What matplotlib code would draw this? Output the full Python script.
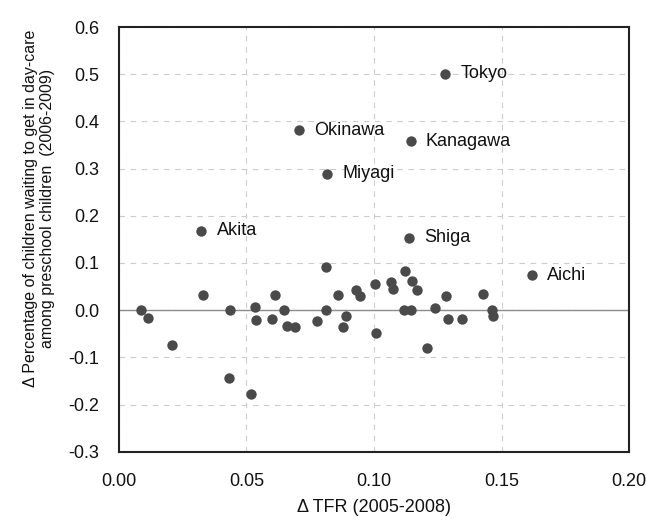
import matplotlib
matplotlib.use("Agg")
import matplotlib.pyplot as plt

plt.rcParams['font.family'] = ['Liberation Sans', 'DejaVu Sans']

# Labelled prefectures
names = ["Tokyo", "Okinawa", "Kanagawa", "Miyagi", "Akita", "Shiga", "Aichi"]
name_tfr = [0.128, 0.0704, 0.1143, 0.0816, 0.0323, 0.1137, 0.1619]
name_wait = [0.501, 0.381, 0.358, 0.289, 0.168, 0.153, 0.074]

# Other prefectures
tfr = [0.0087, 0.0113, 0.0207, 0.0329, 0.0437, 0.0431, 0.0516, 0.0534, 0.0539,
       0.0599, 0.0613, 0.0649, 0.0660, 0.0691, 0.0775, 0.0811, 0.0811, 0.0858,
       0.0878, 0.0889, 0.0931, 0.0944, 0.1005, 0.1007, 0.1065, 0.1076, 0.1120,
       0.1116, 0.1144, 0.1150, 0.1168, 0.1209, 0.1240, 0.1283, 0.1288, 0.1343,
       0.1427, 0.1462, 0.1467]
wait = [0.000, -0.016, -0.074, 0.032, 0.000, -0.144, -0.178, 0.007, -0.020,
        -0.018, 0.032, 0.000, -0.033, -0.036, -0.023, 0.091, 0.000, 0.032,
        -0.036, -0.012, 0.042, 0.029, 0.055, -0.049, 0.059, 0.045, 0.083,
        0.001, 0.001, 0.062, 0.042, -0.081, 0.004, 0.029, -0.018, -0.018,
        0.035, 0.001, -0.012]

xticks = [0.00, 0.05, 0.10, 0.15, 0.20]
yticks = [-0.3, -0.2, -0.1, 0.0, 0.1, 0.2, 0.3, 0.4, 0.5, 0.6]

fig = plt.figure(figsize=(6.46, 5.21), dpi=100)
ax = fig.add_axes([0.184, 0.133, 0.790, 0.815])

pt_color = '#4a4a4a'
ax.axhline(0, color='#8c8c8c', lw=1.0, zorder=1)
ax.scatter(tfr, wait, s=56, color=pt_color, zorder=3, linewidths=0)
ax.scatter(name_tfr, name_wait, s=56, color=pt_color, zorder=3, linewidths=0)
for n, x, y in zip(names, name_tfr, name_wait):
    ax.annotate(n, (x, y), xytext=(11, 0), textcoords='offset points',
                va='center', ha='left', fontsize=13, color='#111111')

ax.set_xlim(0, 0.20)
ax.set_ylim(-0.3, 0.6)
ax.set_xticks(xticks)
ax.set_yticks(yticks)
ax.set_xticklabels([f"{v:.2f}" for v in xticks])
ax.set_yticklabels([f"{v:.1f}" for v in yticks])
ax.tick_params(length=0, labelsize=13, colors='#111111')
ax.tick_params(axis='y', pad=14)
ax.tick_params(axis='x', pad=15)
ax.grid(True, color='#cccccc', lw=0.8, linestyle=(0, (5, 5)))
ax.set_axisbelow(True)
for sp in ax.spines.values():
    sp.set_linewidth(1.5)
    sp.set_color('#222222')

ax.set_xlabel("\u0394 TFR (2005-2008)", fontsize=13, color='#111111')
ax.xaxis.set_label_coords(0.5, -0.112)
ax.set_ylabel("\u0394 Percentage of children waiting to get in day-care\namong preschool children  (2006-2009)",
              fontsize=11.5, color='#111111', linespacing=1.15)
ax.yaxis.set_label_coords(-0.125, 0.574)

fig.savefig("out.png", dpi=100)
